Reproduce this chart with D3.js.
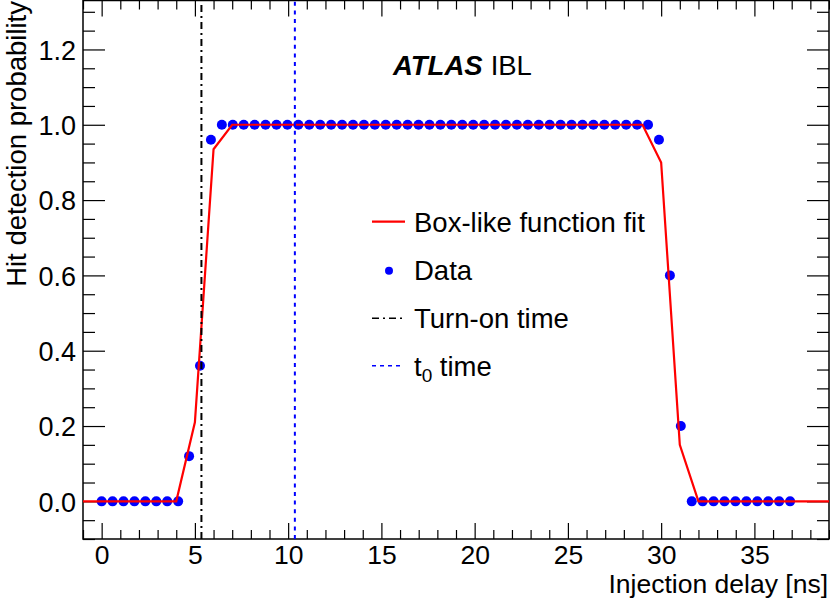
<!DOCTYPE html>
<html>
<head>
<meta charset="utf-8">
<script src="https://cdn.jsdelivr.net/npm/d3@7"></script>
<style>
  html, body { margin: 0; padding: 0; background: #fff; }
  svg { display: block; }
</style>
</head>
<body>
<svg id="chart" width="830" height="599"></svg>
<script>
// ---- data ----
const delayNs = [0, 0.586, 1.172, 1.758, 2.344, 2.930, 3.516, 4.102, 4.688, 5.273,
  5.859, 6.445, 7.031, 7.617, 8.203, 8.789, 9.375, 9.961, 10.547, 11.133,
  11.719, 12.305, 12.891, 13.477, 14.063, 14.648, 15.234, 15.820, 16.406, 16.992,
  17.578, 18.164, 18.750, 19.336, 19.922, 20.508, 21.094, 21.680, 22.266, 22.852,
  23.438, 24.023, 24.609, 25.195, 25.781, 26.367, 26.953, 27.539, 28.125, 28.711,
  29.297, 29.883, 30.469, 31.055, 31.641, 32.227, 32.813, 33.398, 33.984, 34.570,
  35.156, 35.742, 36.328, 36.914];
const hitProb = [0, 0, 0, 0, 0, 0, 0, 0, 0.12, 0.36,
  0.96, 1, 1, 1, 1, 1, 1, 1, 1, 1,
  1, 1, 1, 1, 1, 1, 1, 1, 1, 1,
  1, 1, 1, 1, 1, 1, 1, 1, 1, 1,
  1, 1, 1, 1, 1, 1, 1, 1, 1, 1,
  1, 0.96, 0.6, 0.2, 0, 0, 0, 0, 0, 0,
  0, 0, 0, 0];
const fitX = [-1, 4, 5, 6, 7, 29, 30, 31, 32, 39];
const fitY = [0, 0, 0.21, 0.935, 1, 1, 0.90, 0.15, 0, 0];
const turnOnTime = 5.35;
const t0Time = 10.36;
const xMajorTicks = [0, 5, 10, 15, 20, 25, 30, 35];
const yMajorTicks = [0, 0.2, 0.4, 0.6, 0.8, 1.0, 1.2];
const legendLabels = ["Box-like function fit", "Data", "Turn-on time", "t0 time"];

// ---- layout ----
const W = 830, H = 599;
const L = 83, R = 829, T = 0.5, B = 539;
const FONT = "'Liberation Sans', Arial, Helvetica, sans-serif";

const svg = d3.select("#chart");
const x = d3.scaleLinear().domain([-1, 39]).range([L, R]);
const y = d3.scaleLinear().domain([-0.1, 1.33]).range([B, T]);

const xMinor = d3.range(-1, 40, 1).filter(v => !xMajorTicks.includes(v));
const yMinor = d3.range(-2, 27, 1).map(v => +(v * 0.05).toFixed(2)).filter(v => !yMajorTicks.some(m => Math.abs(m - v) < 1e-6));

function styleAxis(g) {
  g.attr("font-family", FONT).attr("font-size", 27);
  g.select(".domain").remove();
  g.selectAll("line").attr("stroke", "#000").attr("stroke-width", 1.2);
  g.selectAll("text").attr("fill", "#000");
}

// bottom major
svg.append("g").attr("transform", `translate(0,${B})`)
  .call(d3.axisBottom(x).tickValues(xMajorTicks).tickSize(-16).tickFormat(d3.format("d")))
  .call(styleAxis)
  .call(g => g.attr("font-size", 26.5).selectAll("text").attr("y", 25).attr("dy", null));
// bottom minor
svg.append("g").attr("transform", `translate(0,${B})`)
  .call(d3.axisBottom(x).tickValues(xMinor).tickSize(-9).tickFormat(""))
  .call(styleAxis);
// top major/minor
svg.append("g").attr("transform", `translate(0,${T})`)
  .call(d3.axisTop(x).tickValues(xMajorTicks).tickSize(-16).tickFormat(""))
  .call(styleAxis);
svg.append("g").attr("transform", `translate(0,${T})`)
  .call(d3.axisTop(x).tickValues(xMinor).tickSize(-9).tickFormat(""))
  .call(styleAxis);
// left major
svg.append("g").attr("transform", `translate(${L},0)`)
  .call(d3.axisLeft(y).tickValues(yMajorTicks).tickSize(-22).tickPadding(7).tickFormat(d3.format(".1f")))
  .call(styleAxis)
  .call(g => g.selectAll("text").attr("dy", "0.36em"));
svg.append("g").attr("transform", `translate(${L},0)`)
  .call(d3.axisLeft(y).tickValues(yMinor).tickSize(-12).tickFormat(""))
  .call(styleAxis);
// right
svg.append("g").attr("transform", `translate(${R},0)`)
  .call(d3.axisRight(y).tickValues(yMajorTicks).tickSize(-22).tickFormat(""))
  .call(styleAxis);
svg.append("g").attr("transform", `translate(${R},0)`)
  .call(d3.axisRight(y).tickValues(yMinor).tickSize(-12).tickFormat(""))
  .call(styleAxis);

// frame
svg.append("rect").attr("x", L).attr("y", T).attr("width", R - L).attr("height", B - T)
  .attr("fill", "none").attr("stroke", "#000").attr("stroke-width", 1.5);

// axis titles
svg.append("text").attr("x", 828).attr("y", 593.2).attr("text-anchor", "end")
  .attr("font-family", FONT).attr("font-size", 26.5).text("Injection delay [ns]");
svg.append("text").attr("transform", "translate(26,1) rotate(-90)").attr("text-anchor", "end")
  .attr("font-family", FONT).attr("font-size", 27.5).text("Hit detection probability");

// data points
const pts = delayNs.map((d, i) => ({ x: d, y: hitProb[i] }));
svg.append("g").selectAll("circle").data(pts).join("circle")
  .attr("cx", d => x(d.x)).attr("cy", d => y(d.y)).attr("r", 5).attr("fill", "#0000ff");

// fit line
const fitPts = fitX.map((d, i) => [d, fitY[i]]);
svg.append("path").datum(fitPts)
  .attr("d", d3.line().x(d => x(d[0])).y(d => y(d[1])))
  .attr("fill", "none").attr("stroke", "#ff0000").attr("stroke-width", 2.2);

// vertical lines
svg.append("line").attr("x1", x(turnOnTime)).attr("x2", x(turnOnTime)).attr("y1", B).attr("y2", T)
  .attr("stroke", "#000").attr("stroke-width", 2).attr("stroke-dasharray", "7,4,2,4");
svg.append("line").attr("x1", x(t0Time)).attr("x2", x(t0Time)).attr("y1", B).attr("y2", T)
  .attr("stroke", "#0000ff").attr("stroke-width", 2).attr("stroke-dasharray", "4,4.6");

// ATLAS label
const atl = svg.append("text").attr("x", 393).attr("y", 75).attr("font-family", FONT).attr("font-size", 27.5);
atl.append("tspan").attr("font-weight", "bold").attr("font-style", "italic").text("ATLAS");
atl.append("tspan").attr("dx", 8).text("IBL");

// legend
const lg = svg.append("g").attr("font-family", FONT).attr("font-size", 27.5);
lg.append("line").attr("x1", 372).attr("x2", 405).attr("y1", 221.7).attr("y2", 221.7)
  .attr("stroke", "#ff0000").attr("stroke-width", 2.2);
lg.append("text").attr("x", 414).attr("y", 232).text(legendLabels[0]);
lg.append("circle").attr("cx", 389).attr("cy", 270.7).attr("r", 4).attr("fill", "#0000ff");
lg.append("text").attr("x", 414).attr("y", 280).text(legendLabels[1]);
lg.append("line").attr("x1", 372).attr("x2", 404).attr("y1", 318.3).attr("y2", 318.3)
  .attr("stroke", "#000").attr("stroke-width", 1.5).attr("stroke-dasharray", "7,4,2,4");
lg.append("text").attr("x", 414).attr("y", 328).text(legendLabels[2]);
lg.append("line").attr("x1", 372).attr("x2", 404).attr("y1", 365.7).attr("y2", 365.7)
  .attr("stroke", "#0000ff").attr("stroke-width", 1.5).attr("stroke-dasharray", "4,4");
const t0t = lg.append("text").attr("x", 414).attr("y", 376);
t0t.append("tspan").text("t");
t0t.append("tspan").attr("font-size", 19).attr("dy", 6).text("0");
t0t.append("tspan").attr("dy", -6).text(" time");
</script>
</body>
</html>
